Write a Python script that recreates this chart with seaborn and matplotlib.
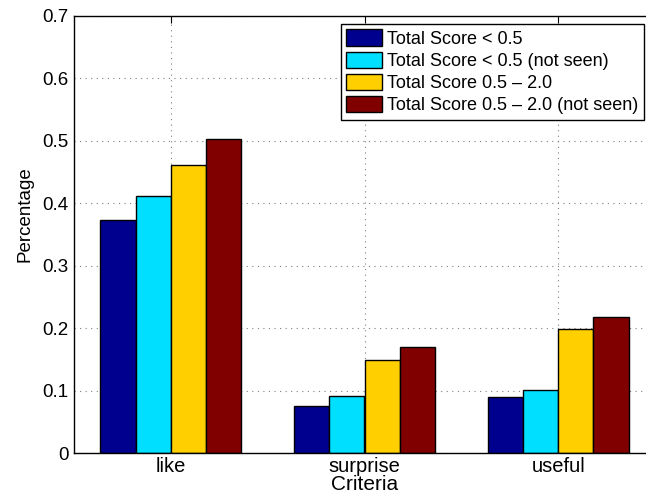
import matplotlib
matplotlib.use("Agg")
import matplotlib.pyplot as plt
import seaborn as sns
import pandas as pd
from matplotlib.ticker import FixedLocator, FixedFormatter

# Criteria and per-group percentages
criteria = ["like", "surprise", "useful"]
series_names = [
    "Total Score < 0.5",
    "Total Score < 0.5 (not seen)",
    "Total Score 0.5 \u2013 2.0",
    "Total Score 0.5 \u2013 2.0 (not seen)",
]
score_low = [0.373, 0.075, 0.089]
score_low_unseen = [0.411, 0.092, 0.101]
score_mid = [0.461, 0.149, 0.199]
score_mid_unseen = [0.503, 0.169, 0.218]
colors = ["#00008F", "#00DFFF", "#FFCF00", "#800000"]
y_ticks = [0, 0.1, 0.2, 0.3, 0.4, 0.5, 0.6, 0.7]
y_tick_labels = ["0", "0.1", "0.2", "0.3", "0.4", "0.5", "0.6", "0.7"]

values = [score_low, score_low_unseen, score_mid, score_mid_unseen]
df = pd.DataFrame(
    [
        {"Criteria": c, "Series": s, "Percentage": v}
        for s, vals in zip(series_names, values)
        for c, v in zip(criteria, vals)
    ]
)

sns.set_style("white")
plt.rcParams["font.family"] = ["Liberation Sans", "DejaVu Sans"]
plt.rcParams["font.size"] = 13
plt.rcParams["text.color"] = "black"
plt.rcParams["axes.labelcolor"] = "black"
plt.rcParams["xtick.color"] = "black"
plt.rcParams["ytick.color"] = "black"

fig = plt.figure(figsize=(6.46, 4.99), dpi=100)
ax = fig.add_axes([74 / 646, 1 - 453 / 499, (655 - 74) / 646, (453 - 16) / 499])

sns.barplot(
    data=df, x="Criteria", y="Percentage", hue="Series",
    order=criteria, hue_order=series_names, palette=colors,
    saturation=1, width=0.727, edgecolor="black", linewidth=1.0,
    errorbar=None, ax=ax,
)

ax.set_xlim(-0.5, 2.5)
ax.set_ylim(0, 0.7)
ax.yaxis.set_major_locator(FixedLocator(y_ticks))
ax.yaxis.set_major_formatter(FixedFormatter(y_tick_labels))

ax.set_axisbelow(True)
ax.grid(True, color="#7f7f7f", linestyle=(0, (1, 4)), linewidth=0.8)

for sp in ax.spines.values():
    sp.set_visible(True)
    sp.set_color("black")
    sp.set_linewidth(1.0)

ax.tick_params(axis="both", direction="in", length=5, width=0.8,
               top=True, right=True, pad=4, colors="black")
ax.tick_params(axis="y", labelsize=13.5)
ax.tick_params(axis="x", labelsize=14.5, pad=3)
ax.set_xlabel("Criteria", fontsize=15, labelpad=-1, color="black")
ax.set_ylabel("Percentage", fontsize=13.5, color="black")
ax.yaxis.set_label_coords(-0.069, 0.547)

handles, labels = ax.get_legend_handles_labels()
if ax.get_legend() is not None:
    ax.get_legend().remove()
leg = ax.legend(
    handles, labels, loc="upper right",
    bbox_to_anchor=(644 / 646, 1 - 24 / 499), bbox_transform=fig.transFigure,
    borderaxespad=0, fancybox=False, framealpha=1, edgecolor="black",
    fontsize=13, handlelength=2.0, handleheight=1.0, handletextpad=0.28,
    labelspacing=0.22, borderpad=0.3,
)
leg.get_frame().set_linewidth(1.0)
for t in leg.get_texts():
    t.set_color("black")

fig.savefig("out.png", dpi=100)
